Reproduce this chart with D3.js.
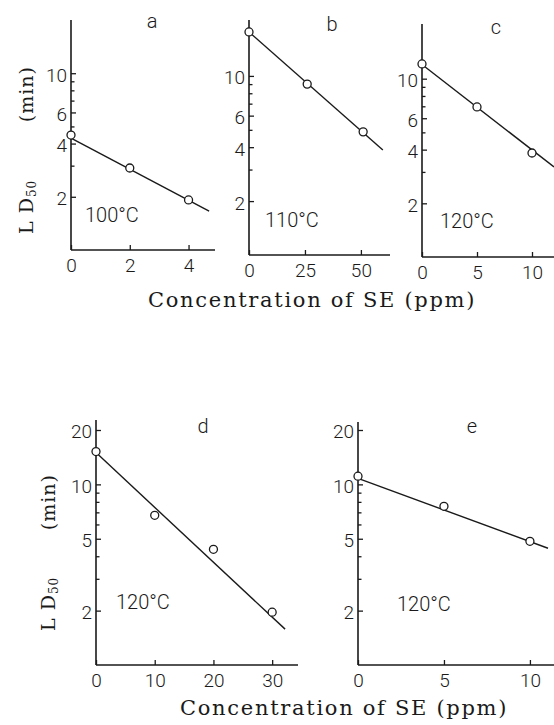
<!DOCTYPE html>
<html>
<head>
<meta charset="utf-8">
<script src="https://cdn.jsdelivr.net/npm/d3@7"></script>
<style>
  body { margin: 0; background: #fff; }
  svg { display: block; }
  .tick text { font-family: Roboto, "Liberation Sans", sans-serif; font-weight: 300; font-size: 19px; fill: #1a1a1a; }
  .tick line { stroke: #1a1a1a; stroke-width: 1.3; }
  .lbl { font-family: Roboto, "Liberation Sans", sans-serif; font-weight: 300; fill: #1a1a1a; }
  .title { font-family: "DejaVu Serif", serif; fill: #1a1a1a; }
</style>
</head>
<body>
<div id="wrapper"></div>
<script>
// 1. Data
const panelLetters = ['a', 'b', 'c', 'd', 'e'];
const temps = ['100°C', '110°C', '120°C', '120°C', '120°C'];
const conc = [[0, 2, 4], [0, 26, 51], [0, 5, 10], [0, 10, 20, 30], [0, 5, 10]];
const ld50 = [[4.47, 2.91, 1.92], [17.6, 9.0, 4.87], [12.1, 6.94, 3.83], [15.2, 6.74, 4.37, 1.96], [11.1, 7.56, 4.84]];
const fitX = [[0, 4.7], [0, 59.8], [0, 12], [0, 32.2], [0, 11.05]];
const fitY = [[4.3, 1.66], [17.6, 3.86], [12.0, 3.2], [15.0, 1.58], [10.8, 4.43]];
const xTicks = [[0, 2, 4], [0, 25, 50], [0, 5, 10], [0, 10, 20, 30], [0, 5, 10]];
const yTickLabels = [[2, 4, 6, 10], [2, 4, 6, 10], [2, 4, 6, 10], [2, 5, 10, 20], [2, 5, 10, 20]];
const yMinorTicks = [[3, 5, 7, 8, 9], [3, 5, 7, 8, 9], [3, 5, 7, 8, 9], [3, 4, 6, 7, 8, 9], [3, 4, 6, 7, 8, 9]];
const xMax = [4.9, 63, 12, 34.4, 11.4];
const xTitle = 'Concentration of SE (ppm)';

// 2. Layout of each small panel
const layout = [
  { x0: 71, x1: 215, yBot: 250, y20: 20, axisTop: 20, letter: [152, 28], temp: [85, 222] },
  { x0: 249, x1: 390, yBot: 255, y20: 22, axisTop: 20, letter: [332, 31], temp: [265, 227] },
  { x0: 422, x1: 554, yBot: 257, y20: 25, axisTop: 24, letter: [496, 34], temp: [440, 228] },
  { x0: 96, x1: 298, yBot: 665, y20: 430, axisTop: 420, letter: [203, 433], temp: [116, 609] },
  { x0: 358, x1: 554, yBot: 665, y20: 430, axisTop: 422, letter: [472, 433], temp: [397, 611] },
];

const width = 554;
const height = 725;

const svg = d3.select('#wrapper')
  .append('svg')
  .attr('width', width)
  .attr('height', height);

const ink = '#1a1a1a';

layout.forEach((p, i) => {
  const xScale = d3.scaleLinear().domain([0, xMax[i]]).range([p.x0, p.x1]);
  const yScale = d3.scaleLog().domain([1, 20]).range([p.yBot, p.y20]);
  const g = svg.append('g');

  // axis lines
  g.append('line')
    .attr('x1', p.x0).attr('x2', p.x0)
    .attr('y1', p.yBot).attr('y2', p.axisTop)
    .attr('stroke', ink).attr('stroke-width', 1.6);
  g.append('line')
    .attr('x1', p.x0).attr('x2', p.x1)
    .attr('y1', p.yBot).attr('y2', p.yBot)
    .attr('stroke', ink).attr('stroke-width', 1.6);

  // y axis, ticks inside
  const labels = yTickLabels[i];
  const yAxis = d3.axisLeft(yScale)
    .tickValues(labels.concat(yMinorTicks[i]))
    .tickSize(-5)
    .tickPadding(4)
    .tickFormat((d) => (labels.includes(d) ? d : ''));
  const ya = g.append('g')
    .attr('transform', `translate(${p.x0},0)`)
    .call(yAxis);
  ya.select('.domain').remove();
  ya.selectAll('.tick text').attr('dy', '0.42em');
  ya.selectAll('.tick')
    .filter((d) => !labels.includes(d))
    .select('line')
    .attr('x2', 3.5);

  // x axis, ticks inside
  const xAxis = d3.axisBottom(xScale)
    .tickValues(xTicks[i])
    .tickSize(-5)
    .tickPadding(9)
    .tickFormat(d3.format('d'));
  const xa = g.append('g')
    .attr('transform', `translate(0,${p.yBot})`)
    .call(xAxis);
  xa.select('.domain').remove();

  // fitted line
  const line = d3.line()
    .x((d) => xScale(d[0]))
    .y((d) => yScale(d[1]));
  g.append('path')
    .datum(d3.zip(fitX[i], fitY[i]))
    .attr('d', line)
    .attr('fill', 'none')
    .attr('stroke', ink)
    .attr('stroke-width', 1.4);

  // data points
  g.selectAll('circle')
    .data(d3.zip(conc[i], ld50[i]))
    .enter()
    .append('circle')
    .attr('cx', (d) => xScale(d[0]))
    .attr('cy', (d) => yScale(d[1]))
    .attr('r', 4)
    .attr('fill', '#fff')
    .attr('stroke', ink)
    .attr('stroke-width', 1.3);

  // panel letter and temperature
  g.append('text')
    .attr('class', 'lbl')
    .attr('x', p.letter[0])
    .attr('y', p.letter[1])
    .attr('text-anchor', 'middle')
    .style('font-size', '20px')
    .text(panelLetters[i]);
  g.append('text')
    .attr('class', 'lbl')
    .attr('x', p.temp[0])
    .attr('y', p.temp[1])
    .style('font-size', '20px')
    .text(temps[i]);
});

// axis titles
const titles = [
  { x: 148, y: 307, yt: { x: 33, lo: 234, hi: 66 } },
  { x: 180, y: 715, yt: { x: 55, lo: 631, hi: 474 } },
];
titles.forEach((t) => {
  svg.append('text')
    .attr('class', 'title')
    .attr('x', t.x)
    .attr('y', t.y)
    .style('font-size', '21px')
    .style('letter-spacing', '1.7px')
    .text(xTitle);

  const ld = svg.append('text')
    .attr('class', 'title')
    .attr('transform', `translate(${t.yt.x},${t.yt.lo}) rotate(-90)`)
    .style('font-size', '19px')
    .style('letter-spacing', '1px');
  ld.append('tspan').text('L D');
  ld.append('tspan').style('font-size', '12px').attr('dy', 3).text('50');

  svg.append('text')
    .attr('class', 'title')
    .attr('transform', `translate(${t.yt.x},${t.yt.hi}) rotate(-90)`)
    .attr('text-anchor', 'end')
    .style('font-size', '19px')
    .style('letter-spacing', '1px')
    .text('(min)');
});
</script>
</body>
</html>
